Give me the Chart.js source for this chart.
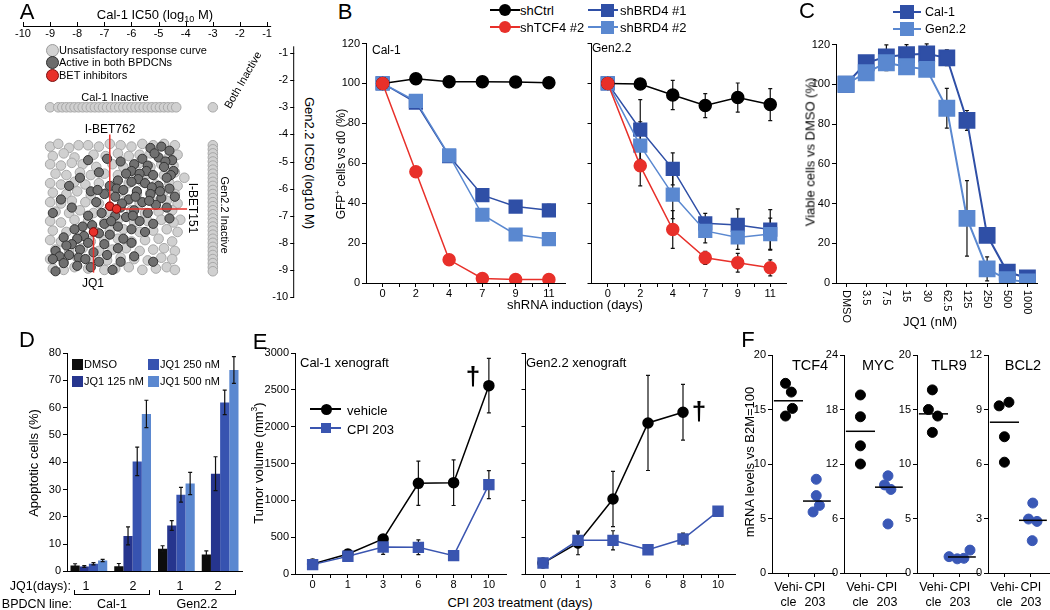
<!DOCTYPE html>
<html>
<head>
<meta charset="utf-8">
<script src="https://cdn.jsdelivr.net/npm/chart.js@4.4.0/dist/chart.umd.min.js"></script>
<style>
  body { margin: 0; width: 1050px; height: 610px; position: relative; overflow: hidden; background: #fff;
         font-family: "Liberation Sans", Arial, Helvetica, sans-serif; color: #000; }
  canvas { position: absolute; }
  .t { position: absolute; white-space: nowrap; line-height: 1; }
  .t sup { font-size: 65%; vertical-align: super; line-height: 0; }
  .t sub { font-size: 70%; vertical-align: sub; line-height: 0; }
  .m { position: absolute; box-sizing: border-box; }
</style>
</head>
<body>
<script>
// ---------- data ----------
// A: IC50 screen (log10 M); -3 = inactive
const aTicks = [-10, -9, -8, -7, -6, -5, -4, -3, -2, -1];
const lightPts = [
  [-9.0,-4.45],[-8.7,-4.35],[-8.3,-4.5],[-7.95,-4.4],[-7.6,-4.4],[-7.2,-4.45],[-6.8,-4.35],[-6.4,-4.4],[-6.0,-4.45],[-5.6,-4.35],[-5.2,-4.4],[-4.8,-4.35],[-4.4,-4.4],
  [-8.9,-4.8],[-8.5,-4.7],[-8.1,-4.85],[-7.4,-4.75],[-6.95,-4.8],[-6.5,-4.7],[-6.1,-4.8],[-5.7,-4.75],[-5.3,-4.7],[-4.6,-4.8],[-4.3,-4.75],
  [-9.0,-5.1],[-8.6,-5.15],[-8.2,-5.05],[-7.8,-5.1],[-7.3,-5.2],[-6.7,-5.1],[-6.3,-5.2],[-5.7,-5.05],[-5.3,-5.2],[-4.9,-5.1],[-4.45,-5.15],
  [-8.8,-5.45],[-8.4,-5.5],[-7.9,-5.4],[-7.5,-5.5],[-7.0,-5.45],[-6.5,-5.5],[-5.9,-5.4],[-5.4,-5.45],[-4.8,-5.5],[-4.4,-5.4],[-4.05,-5.6],
  [-9.0,-5.8],[-8.6,-5.85],[-8.1,-5.75],[-7.7,-5.85],[-7.2,-5.8],[-6.7,-5.9],[-6.1,-5.8],[-5.6,-5.75],[-5.1,-5.85],[-4.6,-5.8],[-4.3,-5.9],
  [-8.9,-6.15],[-8.4,-6.2],[-8.0,-6.1],[-7.5,-6.25],[-6.9,-6.15],[-6.4,-6.1],[-5.8,-6.2],[-5.3,-6.15],[-4.8,-6.1],[-4.4,-6.2],
  [-9.0,-6.5],[-8.6,-6.55],[-8.2,-6.45],[-7.7,-6.5],[-7.2,-6.55],[-6.2,-6.45],[-5.7,-6.55],[-5.2,-6.5],[-4.7,-6.45],[-4.3,-6.55],
  [-8.8,-6.85],[-8.3,-6.9],[-7.9,-6.8],[-7.4,-6.9],[-6.9,-6.85],[-6.0,-6.8],[-5.5,-6.9],[-5.0,-6.85],[-4.5,-6.8],[-4.2,-7.15],
  [-9.0,-7.2],[-8.6,-7.25],[-8.1,-7.15],[-7.6,-7.2],[-7.0,-7.25],[-6.5,-7.15],[-5.9,-7.25],[-5.4,-7.2],[-4.9,-7.15],[-4.45,-7.25],
  [-8.9,-7.55],[-8.4,-7.6],[-7.9,-7.5],[-7.3,-7.6],[-6.8,-7.55],[-6.3,-7.5],[-5.7,-7.6],[-5.2,-7.55],[-4.7,-7.5],[-4.3,-7.6],
  [-9.0,-7.9],[-8.6,-7.95],[-8.0,-7.85],[-7.5,-7.95],[-7.0,-7.9],[-6.5,-7.85],[-6.0,-7.95],[-5.5,-7.9],[-5.0,-7.85],[-4.5,-7.95],
  [-8.8,-8.25],[-8.3,-8.3],[-7.8,-8.2],[-7.2,-8.3],[-6.7,-8.25],[-6.2,-8.2],[-5.7,-8.3],[-5.2,-8.25],[-4.8,-8.2],[-4.4,-8.3],
  [-9.0,-8.6],[-8.5,-8.65],[-8.0,-8.55],[-7.5,-8.6],[-6.9,-8.65],[-6.4,-8.55],[-5.9,-8.6],[-5.4,-8.65],[-4.9,-8.55],[-4.5,-8.6],
  [-8.9,-8.95],[-8.5,-9.0],[-8.1,-8.9],[-7.6,-8.95],[-7.0,-9.0],[-6.6,-8.95],[-6.1,-8.9],[-5.6,-9.0],[-5.1,-8.95],[-4.7,-8.9],[-4.4,-9.0]
];
const darkPts = [
  [-5.3,-4.5],[-4.9,-4.45],[-4.6,-4.6],[-5.0,-4.85],[-4.5,-4.95],[-5.6,-4.9],[-6.9,-4.9],[-7.6,-4.95],[-5.15,-4.7],[-4.75,-5.0],
  [-5.9,-5.1],[-5.4,-5.15],[-4.8,-5.2],[-4.45,-5.35],[-6.4,-5.0],[-6.0,-5.35],[-7.2,-5.4],[-5.45,-5.35],[-4.55,-5.5],
  [-6.2,-5.45],[-5.7,-5.45],[-5.2,-5.5],[-4.7,-5.6],[-7.9,-5.6],[-5.75,-5.65],
  [-6.5,-5.7],[-6.0,-5.75],[-5.5,-5.8],[-5.0,-5.9],[-4.6,-6.0],[-6.8,-5.9],[-8.3,-5.9],[-5.25,-5.95],[-6.55,-6.0],
  [-6.3,-6.05],[-5.8,-6.1],[-5.3,-6.2],[-4.9,-6.35],[-4.4,-6.3],[-7.0,-6.2],[-7.5,-6.1],[-4.95,-6.1],[-7.25,-6.05],
  [-6.6,-6.3],[-6.1,-6.4],[-5.6,-6.5],[-5.1,-6.6],[-4.7,-6.7],[-8.6,-6.4],[-5.85,-6.3],[-5.35,-6.45],
  [-7.3,-6.5],[-6.4,-6.7],[-5.9,-6.8],[-5.4,-6.9],[-8.2,-6.7],[-8.9,-6.9],[-6.35,-6.55],
  [-7.1,-6.9],[-6.6,-7.0],[-6.2,-7.05],[-5.7,-7.2],[-5.2,-7.3],[-4.6,-7.1],[-5.95,-7.0],
  [-7.6,-7.0],[-7.0,-7.3],[-6.5,-7.4],[-6.0,-7.5],[-5.5,-7.6],[-6.75,-7.2],[-7.45,-7.35],
  [-7.8,-7.4],[-7.2,-7.65],[-6.8,-7.7],[-6.3,-7.85],[-8.1,-7.5],[-7.75,-7.75],
  [-8.0,-7.85],[-7.6,-8.0],[-7.0,-8.05],[-6.5,-8.2],[-8.5,-7.8],[-6.0,-8.0],[-8.2,-8.05],
  [-8.4,-8.1],[-7.9,-8.25],[-7.4,-8.35],[-6.9,-8.45],[-8.8,-8.3],[-8.65,-8.5],[-7.95,-8.55],
  [-8.3,-8.45],[-7.7,-8.6],[-7.2,-8.7],[-8.9,-8.6],[-6.4,-8.7],[-5.9,-8.5],[-5.2,-8.7],
  [-8.5,-8.75],[-8.0,-8.85],[-7.5,-8.9],[-8.8,-9.05],[-6.7,-9.0]
];
const inactiveLevel = -3;
const cal1InactiveX = [-9.0,-8.7,-8.55,-8.4,-8.25,-8.1,-7.95,-7.8,-7.65,-7.5,-7.35,-7.2,-7.05,-6.9,-6.75,-6.6,-6.45,-6.3,-6.15,-6.0,-5.85,-5.7,-5.55,-5.4,-5.25,-5.1,-4.95,-4.8,-4.65,-4.5,-4.35];
const gen22InactiveY = [-4.4,-4.55,-4.7,-4.85,-5.0,-5.15,-5.3,-5.45,-5.6,-5.75,-5.9,-6.05,-6.2,-6.35,-6.5,-6.65,-6.8,-6.95,-7.1,-7.25,-7.4,-7.55,-7.7,-7.85,-8.0,-8.15,-8.3,-8.45,-8.6,-8.75,-8.9,-9.05];
const betPts = [[-6.8,-6.65],[-6.55,-6.75],[-7.4,-7.6]];
const betLeaderEnds = [[-6.8,-4.0],[-3.95,-6.75],[-7.4,-9.1]];

// B: shRNA time course
const bDays = ['0','2','4','7','9','11'];
const calCtrl = [100,102.3,100.8,100.8,100.7,100.3];
const calTcf4 = [100,55.7,11.6,2.3,1.8,1.8];
const calBrd1 = [100,90.4,63.6,44,38.3,36.4];
const calBrd1Err = [0,1.5,2,3,2,3];
const calBrd2 = [100,91.2,64,34.2,24.3,22];
const calBrd2Err = [0,1,1.5,1.5,1.5,2.5];
const genCtrl = [100,99.7,94.2,88.9,92.9,89.4];
const genCtrlErr = [0,0,7.3,6,7.3,8];
const genTcf4 = [100,58.7,26.8,12.6,10.1,7.6];
const genTcf4Err = [0,10,9.5,3.3,4.7,4];
const genBrd1 = [100,76.9,57.2,29.9,29.1,26.8];
const genBrd1Err = [0,15,8,5,8,10];
const genBrd2 = [100,68.8,44.3,26.1,22.8,24.5];
const genBrd2Err = [0,12,12,6,6,8];

// C: JQ1 dose response
const cDoses = ['DMSO','3.5','7.5','15','30','62.5','125','250','500','1000'];
const cCal = [100,110.8,113.8,114.9,115.3,113.3,81.8,24,5.5,2.5];
const cCalErr = [0,2,6,5,5,4,5,3,1,0];
const cGen = [100,105.8,110.8,108.8,107.5,87.9,32.5,7.1,1.7,0.5];
const cGenErr = [0,1,4,2,2,10,19,6,0,0];

// D: apoptosis
const dGroups = ['Cal-1 d1','Cal-1 d2','Gen2.2 d1','Gen2.2 d2'];
const dDmso = [2.2,1.9,8.3,6.2];
const dDmsoErr = [0.6,1,1.1,1.3];
const d125 = [1.8,13,16.8,35.8];
const d125Err = [0.3,3.3,1.8,6.2];
const d250 = [2.8,40.3,28.1,61.9];
const d250Err = [0.4,5.2,2.7,4.5];
const d500 = [4.0,57.7,32.2,73.8];
const d500Err = [0.4,5,4.1,4.9];

// E: xenografts
const eDays = ['0','1','3','6','8','10'];
const eCalVeh = [136,271,475,1231,1240,2557];
const eCalVehErr = [0,60,50,300,310,370];
const eCalCpi = [127,240,366,362,249,1213];
const eCalCpiErr = [0,40,100,100,0,190];
const eGenVeh = [149,421,1018,2050,2195,null];
const eGenVehErr = [0,160,376,645,378,0];
const eGenCpi = [149,457,457,330,475,851];
const eGenCpiErr = [0,100,130,60,80,0];

// F: mRNA levels
const genes = ['TCF4','MYC','TLR9','BCL2'];
const fMax = [20,24,20,12];
const vehVals = [[17.4,16.6,15.1,14.4],[19.6,17.2,14.0,12.0],[16.8,15.0,14.4,12.9],[9.2,9.4,7.5,6.1]];
const vehJit = [[-0.11,0.11,0.15,-0.11],[0,0,0,0],[-0.04,-0.19,0.16,-0.04],[-0.2,0.17,0,0]];
const cpiVals = [[8.6,7.1,6.2,5.6],[10.7,9.7,9.2,5.4],[1.5,1.3,1.35,2.1],[3.85,2.97,2.84,1.78]];
const cpiJit = [[0.05,0.05,0.17,-0.07],[0.04,-0.09,0.15,0.04],[-0.41,-0.1,0.15,0.38],[0.07,-0.09,0.23,0.05]];
const vehMean = [15.8,15.6,14.6,8.3];
const cpiMean = [6.6,9.45,1.47,2.9];
const meanSpan = [[-0.55,0.55],[0.55,1.6]];

// ---------- colours ----------
const RED = '#e8302a', BLUE1 = '#2f4fa6', BLUE2 = '#5a88d0', EBLUE = '#3a55b0';

Chart.defaults.font.family = '"Liberation Sans", Arial, Helvetica, sans-serif';
Chart.defaults.font.size = 11;
Chart.defaults.color = '#000';
Chart.defaults.plugins.legend.display = false;
Chart.defaults.plugins.tooltip.enabled = false;

// ---------- helpers ----------
function txt(html, x, y, size, align, rot, extra) {
  const d = document.createElement('div');
  d.className = 't';
  d.innerHTML = html;
  d.style.left = x + 'px';
  d.style.top = y + 'px';
  d.style.fontSize = (size || 13) + 'px';
  const tx = align === 'left' ? '0' : align === 'right' ? '-100%' : '-50%';
  d.style.transform = `translate(${tx},-50%)` + (rot ? ` rotate(${rot}deg)` : '');
  if (extra) Object.assign(d.style, extra);
  document.body.appendChild(d);
}
function mark(x, y, size, fill, square, stroke) {
  const d = document.createElement('div');
  d.className = 'm';
  d.style.cssText += `left:${x - size / 2}px;top:${y - size / 2}px;width:${size}px;height:${size}px;background:${fill};` +
    (square ? '' : 'border-radius:50%;') + (stroke ? `border:1px solid ${stroke};` : '');
  document.body.appendChild(d);
}
function hline(x1, x2, y, color, w) {
  const d = document.createElement('div');
  d.className = 'm';
  d.style.cssText += `left:${x1}px;top:${y - w / 2}px;width:${x2 - x1}px;height:${w}px;background:${color};`;
  document.body.appendChild(d);
}
function bracket(x1, x2, y) {
  const d = document.createElement('div');
  d.className = 'm';
  d.style.cssText += `left:${x1}px;top:${y - 4}px;width:${x2 - x1}px;height:5px;border:1px solid #000;border-top:none;`;
  document.body.appendChild(d);
}

function axis(extra, ticks, grid) {
  return Object.assign({
    border: { color: '#000', width: 1 },
    grid: Object.assign({ drawOnChartArea: false, color: '#000', tickLength: 4 }, grid),
    ticks: Object.assign({ color: '#000', font: { size: 11 }, padding: 2, maxRotation: 0, autoSkip: false }, ticks)
  }, extra);
}

// area = [left, top, right, bottom] of the plot area; m = margins [left, top, right, bottom]
function makeChart(area, m, config) {
  const w = area[2] - area[0] + m[0] + m[2];
  const h = area[3] - area[1] + m[1] + m[3];
  const c = document.createElement('canvas');
  c.width = w; c.height = h;
  c.style.left = (area[0] - m[0]) + 'px';
  c.style.top = (area[1] - m[1]) + 'px';
  c.style.width = w + 'px'; c.style.height = h + 'px';
  document.body.appendChild(c);
  const o = config.options;
  o.responsive = false;
  o.animation = false;
  o.devicePixelRatio = 1;
  o.layout = { padding: { left: 0, top: m[1], right: m[2], bottom: 0 } };
  o.scales.x.afterFit = s => { s.height = m[3]; };
  o.scales.y.afterFit = s => { s.width = m[0]; };
  return new Chart(c, config);
}

function drawErr(chart, onTop) {
  const ctx = chart.ctx, ys = chart.scales.y;
  chart.data.datasets.forEach((ds, i) => {
    if (!ds.err || !!ds.errOnTop !== onTop) return;
    const meta = chart.getDatasetMeta(i);
    ctx.save();
    ctx.strokeStyle = '#111';
    ctx.lineWidth = 1.2;
    meta.data.forEach((el, j) => {
      const e = ds.err[j], v = ds.data[j];
      if (!e || v == null) return;
      const x = el.x, y1 = ys.getPixelForValue(v + e), y2 = ys.getPixelForValue(v - e);
      ctx.beginPath();
      ctx.moveTo(x, y1); ctx.lineTo(x, y2);
      ctx.moveTo(x - 2, y1); ctx.lineTo(x + 2, y1);
      ctx.moveTo(x - 2, y2); ctx.lineTo(x + 2, y2);
      ctx.stroke();
    });
    ctx.restore();
  });
}
const errorBars = {
  id: 'errorBars',
  beforeDatasetsDraw(chart) { drawErr(chart, false); },
  afterDatasetsDraw(chart) { drawErr(chart, true); }
};

// extra tick marks half way between categories
const minorTicks = {
  id: 'minorTicks',
  afterDraw(chart) {
    const s = chart.scales.x, ctx = chart.ctx, n = s.getLabels().length;
    const step = (s.right - s.left) / n;
    ctx.save();
    ctx.strokeStyle = '#000';
    ctx.lineWidth = 1;
    ctx.beginPath();
    for (let i = 1; i < n; i++) {
      const x = Math.round(s.left + i * step) + 0.5;
      ctx.moveTo(x, s.top); ctx.lineTo(x, s.top + 4);
    }
    ctx.stroke();
    ctx.restore();
  }
};

// tick labels turned 90 degrees clockwise (panel C)
const rotLabels = {
  id: 'rotLabels',
  afterDraw(chart) {
    const s = chart.scales.x, ctx = chart.ctx;
    ctx.save();
    ctx.font = '11px "Liberation Sans", Arial, sans-serif';
    ctx.fillStyle = '#000';
    ctx.textAlign = 'left';
    ctx.textBaseline = 'middle';
    s.getLabels().forEach((l, i) => {
      ctx.save();
      ctx.translate(s.getPixelForValue(i), s.top + 7);
      ctx.rotate(Math.PI / 2);
      ctx.fillText(l, 0, 0);
      ctx.restore();
    });
    ctx.restore();
  }
};

// ---------- A ----------
const toXY = p => ({ x: p[0], y: p[1] });
const lightAll = lightPts.map(toXY)
  .concat(cal1InactiveX.map(x => ({ x, y: inactiveLevel })))
  .concat(gen22InactiveY.map(y => ({ x: inactiveLevel, y })))
  .concat([{ x: inactiveLevel, y: inactiveLevel }]);

const aDecor = {
  id: 'aDecor',
  afterDatasetsDraw(chart) {
    const ctx = chart.ctx, xs = chart.scales.x, ys = chart.scales.y;
    ctx.save();
    ctx.strokeStyle = RED;
    ctx.lineWidth = 1.5;
    betPts.forEach((p, i) => {
      const e = betLeaderEnds[i];
      ctx.beginPath();
      ctx.moveTo(xs.getPixelForValue(p[0]), ys.getPixelForValue(p[1]));
      ctx.lineTo(xs.getPixelForValue(e[0]), ys.getPixelForValue(e[1]));
      ctx.stroke();
    });
    chart.getDatasetMeta(0).data.forEach(el => el.draw(ctx, chart.chartArea));
    ctx.restore();
  },
  afterDraw(chart) {
    const ctx = chart.ctx, xs = chart.scales.x, ys = chart.scales.y, a = chart.chartArea;
    ctx.save();
    ctx.strokeStyle = '#000';
    ctx.fillStyle = '#000';
    ctx.lineWidth = 1;
    ctx.font = '11px "Liberation Sans", Arial, sans-serif';
    ctx.beginPath();
    ctx.moveTo(xs.getPixelForValue(-10), a.top + 0.5);
    ctx.lineTo(xs.getPixelForValue(-0.85), a.top + 0.5);
    ctx.moveTo(a.right - 0.5, ys.getPixelForValue(-0.75));
    ctx.lineTo(a.right - 0.5, ys.getPixelForValue(-10));
    aTicks.forEach(v => {
      const x = Math.round(xs.getPixelForValue(v)) + 0.5;
      ctx.moveTo(x, a.top); ctx.lineTo(x, a.top - 4);
      const y = Math.round(ys.getPixelForValue(v)) + 0.5;
      ctx.moveTo(a.right - 4, y); ctx.lineTo(a.right, y);
    });
    ctx.stroke();
    ctx.textAlign = 'center';
    ctx.textBaseline = 'middle';
    aTicks.forEach(v => ctx.fillText(String(v), xs.getPixelForValue(v), a.top + 8));
    ctx.textAlign = 'right';
    aTicks.forEach(v => ctx.fillText(String(v), a.right - 6, ys.getPixelForValue(v)));
    ctx.restore();
  }
};

(function () {
  const c = document.createElement('canvas');
  c.width = 300; c.height = 305;
  c.style.left = '0px'; c.style.top = '0px';
  c.style.width = '300px'; c.style.height = '305px';
  document.body.appendChild(c);
  new Chart(c, {
    type: 'scatter',
    data: { datasets: [
      { data: betPts.map(toXY), pointRadius: 4.2, backgroundColor: RED, borderColor: '#7a1010', borderWidth: 1 },
      { data: darkPts.map(toXY), pointRadius: 4.6, backgroundColor: '#707070', borderColor: '#333', borderWidth: 1 },
      { data: lightAll, pointRadius: 4.8, backgroundColor: '#d0d0d0', borderColor: '#a8a8a8', borderWidth: 1 }
    ] },
    options: {
      responsive: false, animation: false, devicePixelRatio: 1,
      layout: { padding: { left: 23, top: 26, right: 4, bottom: 8 } },
      scales: {
        x: { type: 'linear', display: false, min: -10, max: 0 },
        y: { type: 'linear', display: false, min: -10, max: 0 }
      }
    },
    plugins: [aDecor]
  });
})();

// ---------- B ----------
function line(data, err, color, style, r, w) {
  return { data, err, borderColor: color, backgroundColor: color, pointBackgroundColor: color,
           pointBorderColor: color, pointStyle: style, pointRadius: r, borderWidth: w || 1.5, tension: 0 };
}
function timeChart(area, m, labels, sets, yMax, yStep, showY) {
  return makeChart(area, m, {
    type: 'line',
    data: { labels, datasets: sets },
    options: { scales: {
      x: axis({ offset: true }, { padding: 0, font: { size: 11 } }, {}),
      y: axis({ min: 0, max: yMax }, { stepSize: yStep, display: showY, callback: v => String(v) }, {})
    } },
    plugins: [errorBars, minorTicks]
  });
}
timeChart([366, 43, 576, 283], [32, 10, 0, 20], bDays, [
  line(calTcf4, null, RED, 'circle', 6),
  line(calCtrl, null, '#000', 'circle', 6),
  line(calBrd2, calBrd2Err, BLUE2, 'rect', 9),
  line(calBrd1, calBrd1Err, BLUE1, 'rect', 9)
], 120, 20, true);
timeChart([585, 43, 793, 283], [4, 10, 4, 20], bDays, [
  line(genTcf4, genTcf4Err, RED, 'circle', 6),
  line(genCtrl, genCtrlErr, '#000', 'circle', 6),
  line(genBrd2, genBrd2Err, BLUE2, 'rect', 9),
  line(genBrd1, genBrd1Err, BLUE1, 'rect', 9)
], 120, 20, false);

// ---------- C ----------
makeChart([836, 42, 1046, 283], [40, 10, 4, 45], {
  type: 'line',
  data: { labels: cDoses, datasets: [
    line(cGen, cGenErr, BLUE2, 'rect', 10.5, 2),
    line(cCal, cCalErr, BLUE1, 'rect', 10.5, 2)
  ] },
  options: { scales: {
    x: axis({ offset: true }, { display: false }, {}),
    y: axis({ min: 0, max: 120 }, { stepSize: 20 }, {})
  } },
  plugins: [errorBars, rotLabels]
});

// ---------- D ----------
function bars(data, err, color) {
  return { data, err, errOnTop: true, backgroundColor: color, borderWidth: 0 };
}
makeChart([67, 353, 242, 575], [35, 10, 5, 5], {
  type: 'bar',
  data: { labels: dGroups, datasets: [
    bars(dDmso, dDmsoErr, '#0d0d0d'),
    bars(d125, d125Err, '#26358e'),
    bars(d250, d250Err, '#3753b0'),
    bars(d500, d500Err, '#5b88d0')
  ] },
  options: {
    datasets: { bar: { categoryPercentage: 0.84, barPercentage: 1 } },
    scales: {
      x: axis({}, { display: false }, { drawTicks: false }),
      y: axis({ min: 0, max: 80 }, { stepSize: 10 }, {})
    }
  },
  plugins: [errorBars]
});

// ---------- E ----------
timeChart([295, 353, 515, 574], [45, 10, 0, 20], eDays, [
  line(eCalCpi, eCalCpiErr, EBLUE, 'rect', 7),
  line(eCalVeh, eCalVehErr, '#000', 'circle', 5)
], 3000, 500, true);
timeChart([521, 353, 740, 574], [4, 10, 4, 20], eDays, [
  line(eGenCpi, eGenCpiErr, EBLUE, 'rect', 7),
  line(eGenVeh, eGenVehErr, '#000', 'circle', 5)
], 3000, 500, false);

// ---------- F ----------
const fLeft = [772, 844, 917, 988];
const FBLUE = '#3a58b6';
genes.forEach((g, i) => {
  const x0 = fLeft[i];
  const veh = vehVals[i].map((v, j) => ({ x: vehJit[i][j], y: v }));
  const cpi = cpiVals[i].map((v, j) => ({ x: 1 + cpiJit[i][j], y: v }));
  const meanLine = (span, v) => ({ data: [{ x: span[0], y: v }, { x: span[1], y: v }], showLine: true,
    pointRadius: 0, borderColor: '#000', borderWidth: 1.5 });
  makeChart([x0, 355, x0 + 68, 573], [24, 10, 0, 36], {
    type: 'scatter',
    data: { datasets: [
      meanLine(meanSpan[0], vehMean[i]),
      meanLine(meanSpan[1], cpiMean[i]),
      { data: veh, pointRadius: 5, backgroundColor: '#000', borderColor: '#000' },
      { data: cpi, pointRadius: 5, backgroundColor: FBLUE, borderColor: FBLUE }
    ] },
    options: { scales: {
      x: axis({ type: 'linear', min: -0.62, max: 1.72,
                afterBuildTicks: s => { s.ticks = [{ value: 0 }, { value: 1 }]; } },
              { font: { size: 12.5 }, padding: 3, callback: v => v === 0 ? ['Vehi-', 'cle'] : ['CPI', '203'] }, {}),
      y: axis({ min: 0, max: fMax[i] }, { stepSize: fMax[i] / 4 }, {})
    } }
  });
});

// ---------- text ----------
// A
txt('A', 27, 12, 22);
txt('Cal-1 IC50 (log<sub>10</sub> M)', 155, 14, 13);
txt('Gen2.2 IC50 (log10 M)', 309, 163, 13, 'center', 90);
mark(52, 50, 13, '#d2d2d2', false, '#9a9a9a');
mark(52, 62, 13, '#6c6c6c', false, '#2e2e2e');
mark(52, 75, 13, RED, false, '#7a1010');
txt('Unsatisfactory response curve', 59, 50, 11, 'left');
txt('Active in both BPDCNs', 59, 62, 11, 'left');
txt('BET inhibitors', 59, 75, 11, 'left');
txt('Cal-1 Inactive', 115, 97, 11);
txt('Both Inactive', 243, 80, 11, 'center', -60);
txt('Gen2.2 Inactive', 224, 215, 11, 'center', 90);
txt('I-BET762', 110, 129, 12);
txt('I-BET151', 193, 208, 12, 'center', 90);
txt('JQ1', 93, 283, 12);

// B
txt('B', 345, 12, 22);
hline(490, 520, 10, '#000', 1.5); mark(505, 10, 12, '#000');
txt('shCtrl', 520, 10, 13, 'left');
hline(490, 520, 27, RED, 1.5); mark(505, 27, 12, RED);
txt('shTCF4 #2', 520, 27, 13, 'left');
hline(588, 618, 10, BLUE1, 1.5); mark(607, 10, 13, BLUE1, true);
txt('shBRD4 #1', 620, 10, 13, 'left');
hline(588, 618, 27, BLUE2, 1.5); mark(607, 27, 13, BLUE2, true);
txt('shBRD4 #2', 620, 27, 13, 'left');
txt('Cal-1', 372, 50, 12, 'left');
txt('Gen2.2', 592, 48, 12, 'left');
txt('GFP<sup>+</sup> cells vs d0 (%)', 341, 164, 12, 'center', -90);
txt('shRNA induction (days)', 575, 304, 13);

// C
txt('C', 807, 11, 22);
hline(893, 921, 12, BLUE1, 2); mark(907, 12, 14, BLUE1, true);
txt('Cal-1', 925, 12, 12.5, 'left');
hline(893, 921, 29, BLUE2, 2); mark(907, 29, 14, BLUE2, true);
txt('Gen2.2', 925, 29, 12.5, 'left');
txt('Viable cells vs DMSO (%)', 810, 152, 13, 'center', -90);
txt('JQ1 (nM)', 930, 321, 13);

// D
txt('D', 27, 340, 22);
mark(77, 364, 11, '#0d0d0d', true); txt('DMSO', 84, 364, 11, 'left');
mark(77, 381, 11, '#26358e', true); txt('JQ1 125 nM', 84, 381, 11, 'left');
mark(153, 364, 11, '#3753b0', true); txt('JQ1 250 nM', 160, 364, 11, 'left');
mark(153, 381, 11, '#5b88d0', true); txt('JQ1 500 nM', 160, 381, 11, 'left');
txt('Apoptotic cells (%)', 33, 463, 13, 'center', -90);
txt('JQ1(days):', 71, 586, 12.5, 'right');
txt('1', 86, 586, 12.5); txt('2', 133, 586, 12.5); txt('1', 180, 586, 12.5); txt('2', 218, 586, 12.5);
bracket(74, 150, 594); bracket(159, 236, 594);
txt('BPDCN line:', 72, 604, 12.5, 'right');
txt('Cal-1', 112, 604, 12.5); txt('Gen2.2', 197, 604, 12.5);

// E
txt('E', 260, 342, 22);
txt('Cal-1 xenograft', 300, 362, 13, 'left');
txt('Gen2.2 xenograft', 526, 362, 13, 'left');
hline(310, 341, 409, '#000', 1.5); mark(326, 409, 11, '#000');
txt('vehicle', 347, 410, 13, 'left');
hline(310, 341, 428, EBLUE, 1.5); mark(326, 428, 10, EBLUE, true);
txt('CPI 203', 347, 429, 13, 'left');
txt('Tumor volume (mm<sup>3</sup>)', 258, 463, 13, 'center', -90);
txt('CPI 203 treatment (days)', 520, 602, 13);
txt('&dagger;', 473, 376, 26, 'center', 0, { fontWeight: 'bold' });
txt('&dagger;', 699, 411, 26, 'center', 0, { fontWeight: 'bold' });

// F
txt('F', 748, 340, 22);
txt('mRNA levels vs B2M=100', 749, 462, 13, 'center', -90);
txt('TCF4', 810, 365, 14.5); txt('MYC', 878, 365, 14.5); txt('TLR9', 949, 365, 14.5); txt('BCL2', 1023, 365, 14.5);
</script>
</body>
</html>
